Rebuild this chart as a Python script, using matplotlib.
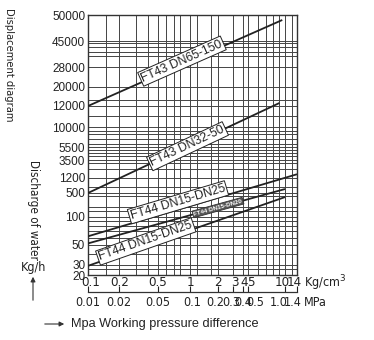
import numpy as np
import matplotlib
matplotlib.use("Agg")
import matplotlib.pyplot as plt
from matplotlib.transforms import offset_copy

plt.rcParams['font.family'] = ['Liberation Sans', 'DejaVu Sans']
COND = dict(family='DejaVu Sans', stretch='condensed')

# Flow axis (kg/h): labelled values and their fractional height on the chart
flow_ticks = [20, 30, 50, 100, 500, 1200, 3500, 5500, 10000, 12000, 20000, 28000, 45000, 50000]
flow_frac = [0.0, 0.0385, 0.1154, 0.2231, 0.3154, 0.3731, 0.4423, 0.4923,
             0.5692, 0.6500, 0.7231, 0.8000, 0.9000, 1.0]
flow_minor = [25, 40, 60, 70, 80, 90, 150, 200, 400, 700, 2000, 3000, 4000, 4500, 5000,
              6000, 7000, 8000, 9000, 11000, 14000, 34000, 37000, 40000, 43000]

# Pressure axis (kg/cm2) with matching MPa labels
press_ticks = [0.1, 0.2, 0.5, 1, 2, 3, 4, 5, 10, 14]
press_frac = [0.0, 0.1483, 0.3349, 0.4880, 0.6220, 0.6938, 0.7416, 0.7656, 0.9426, 1.0]
press_labels = ['0.1', '0.2', '0.5', '1', '2', '3', '4', '5', '10', '14']
mpa_labels = ['0.01', '0.02', '0.05', '0.1', '0.2', '0.3', '0.4', '0.5', '1.0', '1.4']
press_minor = [0.15, 0.3, 0.4, 0.6, 0.7, 0.8, 1.2, 1.7, 6, 7, 8, 9, 12]
# sideways nudges (px) that keep the crowded labels readable
press_nudge = [3, 1, 0, 0, 0, 2, 1, 3, -3, -3]
mpa_nudge = [0, 0, 0, 2, -3, -2, 0, 7, -6, -4]

# Characteristic lines: (label, [p_start, p_end], [flow_start, flow_end])
series = [
    ("FT43 DN65-150", [0.1, 9.5], [12000, 49000]),
    ("FT43 DN32-50", [0.1, 9.0], [500, 13000]),
    ("FT44 DN15-DN25", [0.1, 14], [62, 1500]),
    ("FT44 DN15-DN20", [0.1, 10], [52, 630]),
    ("FT44 DN15-DN25", [0.1, 10], [29, 380]),
]
# where along each line (fraction of its length) the tag sits, and its style
tag_pos = [0.49, 0.52, 0.44, 0.66, 0.30]
tag_dark = [False, False, False, True, False]
tag_shift = [3, 0, 7, 0, 4]


def make_scale(ticks, frac):
    lt = np.log10(ticks)
    f = np.asarray(frac)

    def fwd(v):
        v = np.asarray(v, dtype=float)
        with np.errstate(divide='ignore', invalid='ignore'):
            lv = np.log10(np.where(v > 0, v, np.nan))
        out = np.interp(lv, lt, f)
        lo = lv < lt[0]
        hi = lv > lt[-1]
        out = np.where(lo, f[0] + (lv - lt[0]) * (f[1] - f[0]) / (lt[1] - lt[0]), out)
        out = np.where(hi, f[-1] + (lv - lt[-1]) * (f[-1] - f[-2]) / (lt[-1] - lt[-2]), out)
        return out

    def inv(p):
        p = np.asarray(p, dtype=float)
        out = np.interp(p, f, lt)
        out = np.where(p < f[0], lt[0] + (p - f[0]) * (lt[1] - lt[0]) / (f[1] - f[0]), out)
        out = np.where(p > f[-1], lt[-1] + (p - f[-1]) * (lt[-1] - lt[-2]) / (f[-1] - f[-2]), out)
        return 10 ** out

    return (fwd, inv)


W, H = 374, 340
fig = plt.figure(figsize=(W / 100, H / 100), dpi=100)
L, R, T, B = 88, 297, 15, 275
ax = fig.add_axes([L / W, 1 - B / H, (R - L) / W, (B - T) / H])

ax.set_xscale('function', functions=make_scale(press_ticks, press_frac))
ax.set_yscale('function', functions=make_scale(flow_ticks, flow_frac))
ax.set_xlim(press_ticks[0], press_ticks[-1])
ax.set_ylim(flow_ticks[0], flow_ticks[-1])

ax.set_xticks(press_ticks)
ax.set_xticklabels([])
ax.set_xticks(press_minor, minor=True)
ax.set_yticks(flow_ticks)
ax.set_yticklabels([str(v) for v in flow_ticks], fontsize=8.5)
ax.set_yticks(flow_minor, minor=True)
ax.tick_params(which='both', length=0, colors='#222222')
ax.tick_params(axis='y', pad=2)
ax.grid(True, which='both', color='#444444', linewidth=0.7)
for s in ax.spines.values():
    s.set_linewidth(1.0)
    s.set_color('#333333')

for (name, xs, ys) in series:
    ax.plot(xs, ys, color='#222222', linewidth=1.3, solid_capstyle='butt', zorder=3)

# kg/cm2 labels under the grid
for v, lab, dx in zip(press_ticks, press_labels, press_nudge):
    tr = offset_copy(ax.get_xaxis_transform(), fig=fig, x=dx, y=-8, units='dots')
    ax.text(v, 0, lab, transform=tr, ha='center', va='center', fontsize=9.5,
            color='#222222', clip_on=False, **COND)

fig.canvas.draw()
for (name, xs, ys), t, dark, sh in zip(series, tag_pos, tag_dark, tag_shift):
    p = ax.transData.transform(np.column_stack([xs, ys]))
    ang = np.degrees(np.arctan2(p[1, 1] - p[0, 1], p[1, 0] - p[0, 0]))
    c = p[0] + t * (p[1] - p[0])
    nrm = np.array([-np.sin(np.radians(ang)), np.cos(np.radians(ang))])
    c = c + nrm * sh
    if dark:
        ax.text(c[0], c[1], name, transform=None, rotation=ang, ha='center', va='center',
                rotation_mode='anchor', fontsize=4.5, color='white', fontweight='bold',
                bbox=dict(boxstyle='square,pad=0.15', fc='#555555', ec='#333333', lw=0.6),
                zorder=5)
    else:
        ax.text(c[0], c[1], name, transform=None, rotation=ang, ha='center', va='center',
                rotation_mode='anchor', fontsize=8.8, color='#222222',
                bbox=dict(boxstyle='square,pad=0.12', fc='white', ec='#222222', lw=0.7),
                zorder=5)

# Unit after the pressure labels
fig.text(304 / W, 1 - 283 / H, 'Kg/cm$^3$', fontsize=9, ha='left', va='center',
         color='#222222', **COND)

# Second scale: MPa
ax2 = fig.add_axes([L / W, 1 - 292 / H, (R - L) / W, 0.0001])
ax2.set_xscale('function', functions=make_scale(press_ticks, press_frac))
ax2.set_xlim(press_ticks[0], press_ticks[-1])
ax2.set_xticks(press_ticks)
ax2.set_xticklabels([])
ax2.set_yticks([])
for k in ('top', 'left', 'right'):
    ax2.spines[k].set_visible(False)
ax2.spines['bottom'].set_linewidth(0.9)
ax2.spines['bottom'].set_color('#333333')
ax2.tick_params(axis='x', direction='in', length=4, width=0.8, colors='#222222')
for v, lab, dx in zip(press_ticks, mpa_labels, mpa_nudge):
    tr = offset_copy(ax2.get_xaxis_transform(), fig=fig, x=dx, y=-10, units='dots')
    ax2.text(v, 0, lab, transform=tr, ha='center', va='center', fontsize=9,
             color='#222222', clip_on=False, **COND)
fig.text(304 / W, 1 - 302 / H, 'MPa', fontsize=9, ha='left', va='center',
         color='#222222', **COND)

# Axis captions
fig.text(9 / W, 1 - 8 / H, 'Displacement diagram', rotation=-90, ha='center', va='top',
         fontsize=8, color='#222222', **COND)
fig.text(33 / W, 1 - 160 / H, 'Discharge of water', rotation=-90, ha='center', va='top',
         fontsize=8.4, color='#222222', **COND)
fig.text(34 / W, 1 - 267 / H, 'Kg/h', ha='center', va='center', fontsize=9,
         color='#222222', **COND)
fig.add_artist(matplotlib.patches.FancyArrowPatch((33 / W, 1 - 303 / H), (33 / W, 1 - 274 / H),
               transform=fig.transFigure, arrowstyle='-|>', mutation_scale=7,
               color='#333333', lw=0.8))
fig.add_artist(matplotlib.patches.FancyArrowPatch((42 / W, 1 - 324 / H), (67 / W, 1 - 324 / H),
               transform=fig.transFigure, arrowstyle='-|>', mutation_scale=7,
               color='#333333', lw=0.8))
fig.text(71 / W, 1 - 324 / H, 'Mpa Working pressure difference', ha='left', va='center',
         fontsize=9.2, color='#222222')

fig.savefig('out.png', dpi=100, facecolor='white')
